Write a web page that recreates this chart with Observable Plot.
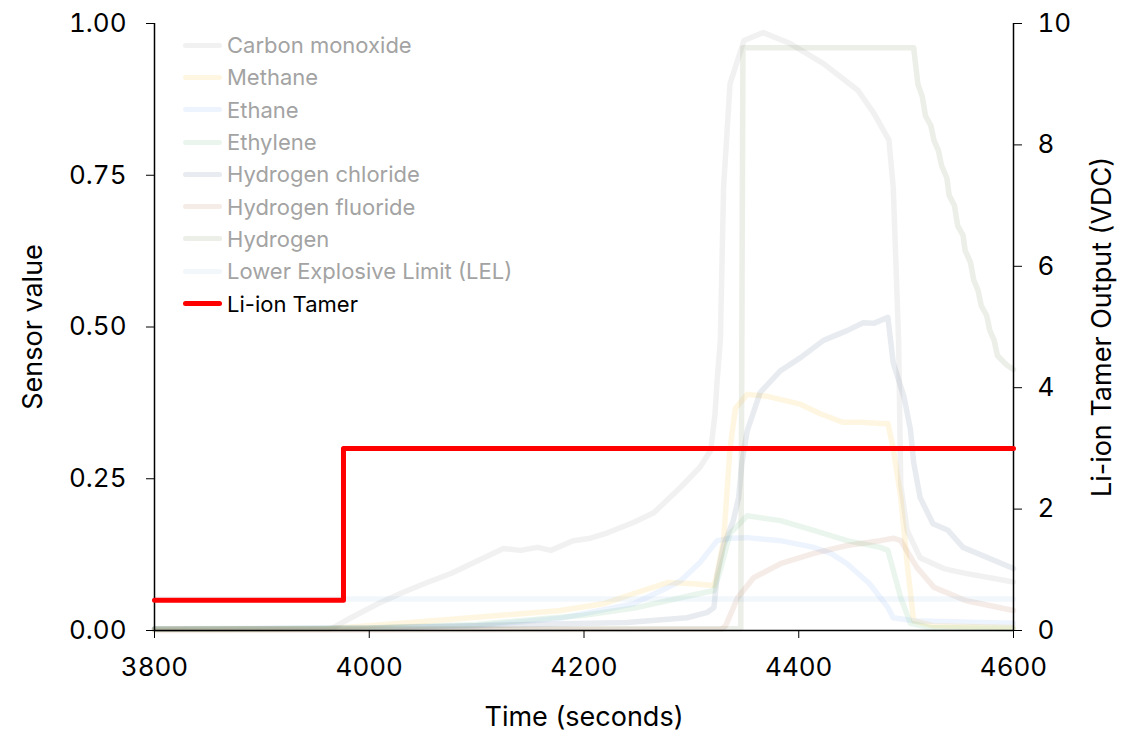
<!DOCTYPE html>
<html>
<head>
<meta charset="utf-8">
<script src="https://cdn.jsdelivr.net/npm/d3@7"></script>
<script src="https://cdn.jsdelivr.net/npm/@observablehq/plot@0.6"></script>
<style>
  body { margin: 0; background: #fff; font-family: Inter, "Noto Sans", sans-serif; }
  #wrap { position: relative; width: 1141px; height: 735px; }
  #legend { position: absolute; left: 183px; top: 29px; }
  .row { display: flex; align-items: center; height: 32.3px; }
  .sw { width: 39px; height: 5px; border-radius: 3px; margin-right: 5px; }
  .lab { font-size: 22px; color: #a3a3a3; white-space: nowrap; }
</style>
</head>
<body>
<div id="wrap"><div id="legend"></div></div>
<script>
// ---- Data (time in seconds, sensor value 0..1) ----
const coTime  = [3800, 3964, 3967, 3983, 4008, 4029, 4051, 4076, 4101, 4125, 4141, 4157, 4169, 4190, 4206, 4222, 4246, 4265, 4290, 4308, 4318, 4322, 4324, 4327, 4330, 4336, 4349, 4367, 4392, 4423, 4455, 4470, 4484, 4488, 4493, 4495, 4501, 4513, 4535, 4553, 4600];
const coValue = [0.002, 0.003, 0.005, 0.021, 0.044, 0.061, 0.077, 0.094, 0.115, 0.135, 0.132, 0.137, 0.132, 0.148, 0.152, 0.161, 0.178, 0.194, 0.236, 0.269, 0.297, 0.356, 0.412, 0.478, 0.730, 0.901, 0.972, 0.985, 0.967, 0.934, 0.890, 0.852, 0.808, 0.730, 0.478, 0.240, 0.165, 0.120, 0.102, 0.095, 0.080];

const methaneTime  = [3800, 3960, 4000, 4050, 4100, 4150, 4178, 4218, 4250, 4278, 4302, 4321, 4324, 4330, 4336, 4341, 4352, 4370, 4401, 4420, 4441, 4457, 4476, 4483, 4488, 4495, 4501, 4507, 4525, 4600];
const methaneValue = [0.002, 0.003, 0.008, 0.015, 0.022, 0.029, 0.033, 0.044, 0.063, 0.079, 0.077, 0.074, 0.094, 0.148, 0.300, 0.366, 0.389, 0.386, 0.373, 0.357, 0.343, 0.343, 0.341, 0.341, 0.300, 0.219, 0.110, 0.016, 0.008, 0.005];

const ethaneTime  = [3800, 4000, 4100, 4178, 4246, 4278, 4290, 4308, 4324, 4336, 4352, 4383, 4414, 4430, 4445, 4466, 4483, 4488, 4507, 4600];
const ethaneValue = [0.002, 0.004, 0.008, 0.020, 0.044, 0.071, 0.082, 0.112, 0.148, 0.152, 0.153, 0.148, 0.137, 0.127, 0.110, 0.077, 0.038, 0.021, 0.016, 0.012];

const ethyleneTime  = [3800, 4000, 4100, 4200, 4250, 4290, 4308, 4321, 4327, 4336, 4352, 4383, 4414, 4445, 4476, 4483, 4495, 4504, 4522, 4600];
const ethyleneValue = [0.002, 0.004, 0.010, 0.025, 0.038, 0.054, 0.061, 0.066, 0.100, 0.160, 0.189, 0.181, 0.165, 0.148, 0.137, 0.132, 0.054, 0.012, 0.005, 0.003];

const hclTime  = [3800, 4000, 4150, 4240, 4296, 4315, 4321, 4324, 4330, 4339, 4344, 4347, 4352, 4364, 4383, 4402, 4423, 4445, 4460, 4470, 4483, 4488, 4498, 4504, 4507, 4513, 4525, 4539, 4553, 4600];
const hclValue = [0.003, 0.004, 0.010, 0.013, 0.021, 0.030, 0.038, 0.091, 0.140, 0.181, 0.219, 0.275, 0.329, 0.392, 0.428, 0.450, 0.478, 0.494, 0.507, 0.506, 0.516, 0.441, 0.385, 0.331, 0.277, 0.219, 0.176, 0.165, 0.137, 0.102];

const hfTime  = [3800, 4328, 4332, 4343, 4358, 4383, 4414, 4445, 4476, 4488, 4495, 4510, 4526, 4556, 4600];
const hfValue = [0.000, 0.002, 0.008, 0.054, 0.087, 0.110, 0.127, 0.140, 0.148, 0.152, 0.148, 0.104, 0.071, 0.049, 0.033];

const hydrogenTime  = [3800, 4346, 4348, 4507, 4511, 4515, 4518, 4523, 4526, 4530, 4533, 4538, 4540, 4545, 4548, 4553, 4555, 4560, 4563, 4567, 4570, 4575, 4578, 4582, 4585, 4591, 4594, 4600];
const hydrogenValue = [0.003, 0.003, 0.960, 0.960, 0.900, 0.880, 0.848, 0.832, 0.807, 0.791, 0.766, 0.745, 0.717, 0.700, 0.667, 0.651, 0.626, 0.606, 0.577, 0.560, 0.535, 0.519, 0.494, 0.478, 0.453, 0.442, 0.437, 0.430];

const lelTime  = [3800, 4600];
const lelValue = [0.052, 0.052];

// Li-ion Tamer output in VDC (right axis, 0..10)
const tamerTime = [3800, 3976, 4600];
const tamerVdc  = [0.5, 3.0, 3.0];

const xTicks = [3800, 4000, 4200, 4400, 4600];
const leftTicks = [0, 0.25, 0.5, 0.75, 1];
const rightTickLabels = [0, 2, 4, 6, 8, 10];

const seriesNames  = ["Carbon monoxide", "Methane", "Ethane", "Ethylene", "Hydrogen chloride", "Hydrogen fluoride", "Hydrogen", "Lower Explosive Limit (LEL)"];
const seriesColors = ["#8a8a8a", "#f4b400", "#4285f4", "#34a853", "#5f6f8f", "#a0522d", "#6b7a4f", "#5b9bd5"];
const seriesOpac   = [0.12, 0.12, 0.09, 0.10, 0.14, 0.11, 0.13, 0.08];
const seriesTimes  = [coTime, methaneTime, ethaneTime, ethyleneTime, hclTime, hfTime, hydrogenTime, lelTime];
const seriesValues = [coValue, methaneValue, ethaneValue, ethyleneValue, hclValue, hfValue, hydrogenValue, lelValue];

const tamerRows = tamerTime.map((t, i) => ({t, vdc: tamerVdc[i]}));

const faintMarks = seriesNames.map((name, k) =>
  Plot.line(seriesTimes[k].map((t, i) => ({t, v: seriesValues[k][i]})), {
    x: "t", y: "v", stroke: seriesColors[k], strokeOpacity: seriesOpac[k],
    strokeWidth: 5.5, strokeLinejoin: "round", strokeLinecap: "round"
  })
);

const FS = 26;
const chart = Plot.plot({
  width: 1141,
  height: 735,
  marginLeft: 154,
  marginRight: 128,
  marginTop: 23,
  marginBottom: 105,
  style: { fontFamily: "Inter, 'Noto Sans', sans-serif", color: "#000", background: "#fff" },
  x: { domain: [3800, 4600] },
  y: { domain: [0, 1] },
  marks: [
    ...faintMarks,
    Plot.ruleX([3800, 4600], { stroke: "#000", strokeWidth: 1.5 }),
    Plot.ruleY([0], { stroke: "#000", strokeWidth: 1.5 }),
    Plot.axisX({ ticks: xTicks, tickSize: 8, tickPadding: 19, fontSize: FS, tickFormat: d => String(d),
      label: "Time (seconds)", labelAnchor: "center", labelArrow: "none", labelOffset: 95 }),
    Plot.axisY({ anchor: "left", ticks: leftTicks, tickSize: 8, tickPadding: 20, fontSize: FS,
      tickFormat: d3.format(".2f"), label: "Sensor value", labelAnchor: "center", labelArrow: "none", labelOffset: 132 }),
    Plot.axisY({ anchor: "right", ticks: rightTickLabels.map(d => d / 10), tickSize: 8, tickPadding: 16, fontSize: FS,
      tickFormat: d => String(Math.round(d * 10)), label: "Li-ion Tamer Output (VDC)", labelAnchor: "center", labelArrow: "none", labelOffset: 97 }),
    Plot.line(tamerRows, { x: "t", y: d => d.vdc / 10, curve: "step-after", stroke: "#ff0000", strokeWidth: 5 })
  ]
});
chart.querySelectorAll("g[aria-label='y-axis label'] text, g[aria-label='x-axis label'] text").forEach(t => t.setAttribute("font-size", "27"));
document.getElementById("wrap").prepend(chart);

// Legend
const legend = document.getElementById("legend");
const legendItems = seriesNames.map((n, k) => ({ name: n, color: seriesColors[k], op: seriesOpac[k], text: "#a3a3a3" }))
  .concat([{ name: "Li-ion Tamer", color: "#ff0000", op: 1, text: "#000" }]);
legendItems.forEach(it => {
  const row = document.createElement("div");
  row.className = "row";
  const sw = document.createElement("div");
  sw.className = "sw";
  sw.style.background = it.color;
  sw.style.opacity = it.op;
  const lab = document.createElement("span");
  lab.className = "lab";
  lab.style.color = it.text;
  lab.textContent = it.name;
  row.append(sw, lab);
  legend.append(row);
});
</script>
</body>
</html>
